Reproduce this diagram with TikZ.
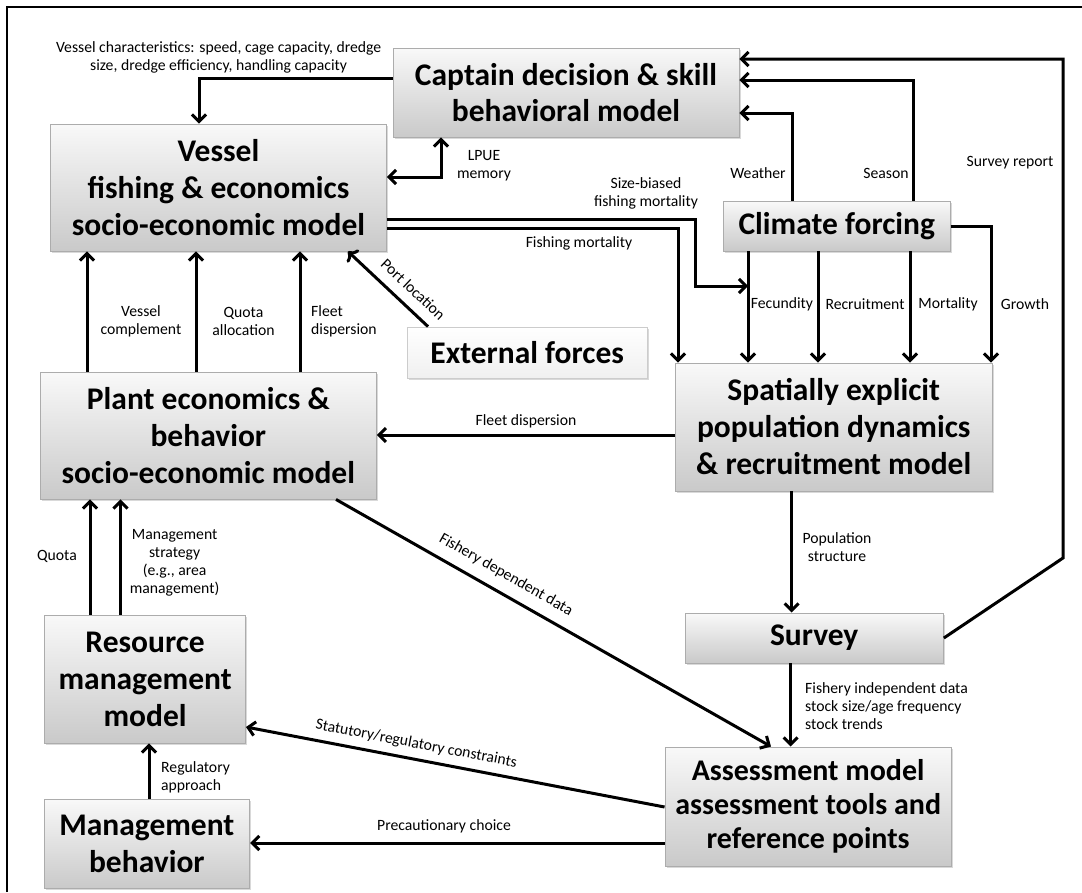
\documentclass[tikz,border=0pt]{standalone}
\usepackage{fontspec}
\setmainfont{Carlito}
\usetikzlibrary{positioning,arrows.meta,shadows}

\tikzset{
  box/.style={draw=gray!65,line width=0.9pt,top color=gray!5,bottom color=gray!42,
    drop shadow={shadow xshift=1.5pt,shadow yshift=-2pt,opacity=0.3},
    align=center,inner sep=0pt,font=\bfseries\fontsize{31.5}{37}\selectfont},
  lightbox/.style={box,draw=gray!40,top color=white,bottom color=gray!12},
  lbl/.style={align=center,inner sep=1pt,font=\fontsize{15.7}{18}\selectfont},
  arr/.style={line width=3pt,-{Straight Barb[length=7pt,width=14pt]}},
  arrr/.style={line width=3pt,{Straight Barb[length=7pt,width=14pt]}-{Straight Barb[length=7pt,width=14pt]}}
}

\begin{document}
\begin{tikzpicture}[x=1pt,y=-1pt]
\useasboundingbox (0,0) rectangle (1082,892);
\draw[line width=2pt] (7,892) -- (7,7) -- (1082,7);

% boxes
\node[box,minimum width=346pt,minimum height=89pt,font=\bfseries\fontsize{31.5}{36}\selectfont] (cap) at (566,92.5) {Captain decision \& skill\\behavioral model};
\node[box,minimum width=336pt,minimum height=127pt] (ves) at (218.5,187.5) {Vessel\\fishing \& economics\\socio-economic model};
\node[box,minimum width=227pt,minimum height=50pt] (clim) at (836.75,226) {Climate forcing};
\node[lightbox,minimum width=239.5pt,minimum height=51pt] (ext) at (527.25,352.5) {External forces};
\node[box,minimum width=336pt,minimum height=127pt] (plant) at (208.35,435.5) {Plant economics \&\\behavior\\socio-economic model};
\node[box,minimum width=316.5pt,minimum height=128pt] (pop) at (833.75,427) {Spatially explicit\\population dynamics\\\& recruitment model};
\node[box,minimum width=258.4pt,minimum height=50pt] (surv) at (814.2,638) {Survey};
\node[box,minimum width=286.3pt,minimum height=119pt,font=\bfseries\fontsize{30}{34}\selectfont] (assess) at (808.15,806.5) {Assessment model\\assessment tools and\\reference points};
\node[box,minimum width=200.7pt,minimum height=128pt] (res) at (145.15,679) {Resource\\management\\model};
\node[box,minimum width=205.7pt,minimum height=89pt] (mgmt) at (146.85,843.5) {Management\\behavior};

% captain and vessel
\draw[arr] (cap.west |- 0,78) -| (199,0 |- ves.north);
\node[lbl] (vchar) at (218.6,57) {Vessel characteristics: speed, cage capacity, dredge\\size, dredge efficiency, handling capacity};
\draw[arrr] (ves.east |- 0,177) -| (441,0 |- cap.south);
\node[lbl] (lpue) at (484,166) {LPUE\\memory};

% inputs to the captain
\draw[arr] (792,0 |- clim.north) |- (cap.east |- 0,113);
\node[lbl] (weather) at (758,173) {Weather};
\draw[arr] (913,0 |- clim.north) |- (cap.east |- 0,80);
\node[lbl] (season) at (886,173) {Season};
\coordinate (sbend) at (1063,558);
\draw[arr] (surv.east) -- (sbend) |- (cap.east |- 0,59);
\node[lbl] (srep) at (1010,163) {Survey report};

% climate forcing
\draw[arr] (clim.east) -| (991,0 |- pop.north);
\foreach \x in {748,818,910}
	\draw[arr] (\x,0 |- clim.south) -- (\x,0 |- pop.north);
\node[lbl] (fec) at (782,304) {Fecundity};
\node[lbl] (recr) at (865,304) {Recruitment};
\node[lbl] (mort) at (948,304) {Mortality};
\node[lbl] (grow) at (1025,304) {Growth};

% fishing mortality
\coordinate (fecin) at (748,286);
\draw[arr] (ves.east |- 0,219) -| (695.5,0 |- fecin) -- (fecin);
\node[lbl] (sbias) at (646,193) {Size-biased\\fishing mortality};
\draw[arr] (ves.east |- 0,228) -| (678,0 |- pop.north);
\node[lbl] (fmort) at (579,243) {Fishing mortality};

% population model and survey
\draw[arr] (pop.west |- 0,435) -- (plant.east |- 0,435);
\node[lbl] (fdisp) at (526,421) {Fleet dispersion};
\draw[arr] (791.6,0 |- pop.south) -- (791.6,0 |- surv.north);
\node[lbl] (pstruct) at (837,547) {Population\\structure};
\draw[arr] (790.6,0 |- surv.south) -- (790.6,0 |- assess.north);
\node[lbl,anchor=west,align=left] (fidata) at (804,706) {Fishery independent data\\stock size/age frequency\\stock trends};

% plant and assessment
\draw[arr] (336,0 |- plant.south) -- (771,0 |- assess.north)
	node[lbl,pos=0.37,above=9pt,sloped] (fddata) {Fishery dependent data};
\draw[arr] (assess.west |- 0,807) -- (res.east |- 0,727)
	node[lbl,pos=0.6,above=6pt,sloped] (stat) {Statutory/regulatory constraints};
\draw[arr] (assess.west |- 0,843) -- (mgmt.east |- 0,843);
\node[lbl] (prec) at (444,826) {Precautionary choice};

% management
\draw[arr] (149,0 |- mgmt.north) -- (149,0 |- res.south);
\node[lbl,anchor=west,align=left] (regap) at (160,777) {Regulatory\\approach};
\foreach \x in {90,120.5}
	\draw[arr] (\x,0 |- res.north) -- (\x,0 |- plant.south);
\node[lbl] (quota) at (57,556) {Quota};
\node[lbl] (mstrat) at (174.6,563) {Management\\strategy\\(e.g., area\\management)};

% plant to vessel
\foreach \x in {87,196,300}
	\draw[arr] (\x,0 |- plant.north) -- (\x,0 |- ves.south);
\node[lbl] (vcomp) at (141,321) {Vessel\\complement};
\node[lbl] (qalloc) at (243.5,321) {Quota\\allocation};
\node[lbl,anchor=west,align=left] (fdisp2) at (310,321) {Fleet\\dispersion};
\draw[arr,<-] (348,0 |- ves.south) -- (428,0 |- ext.north)
	node[lbl,pos=0.67,above=9pt,sloped] (port) {Port location};
\end{tikzpicture}
\end{document}
